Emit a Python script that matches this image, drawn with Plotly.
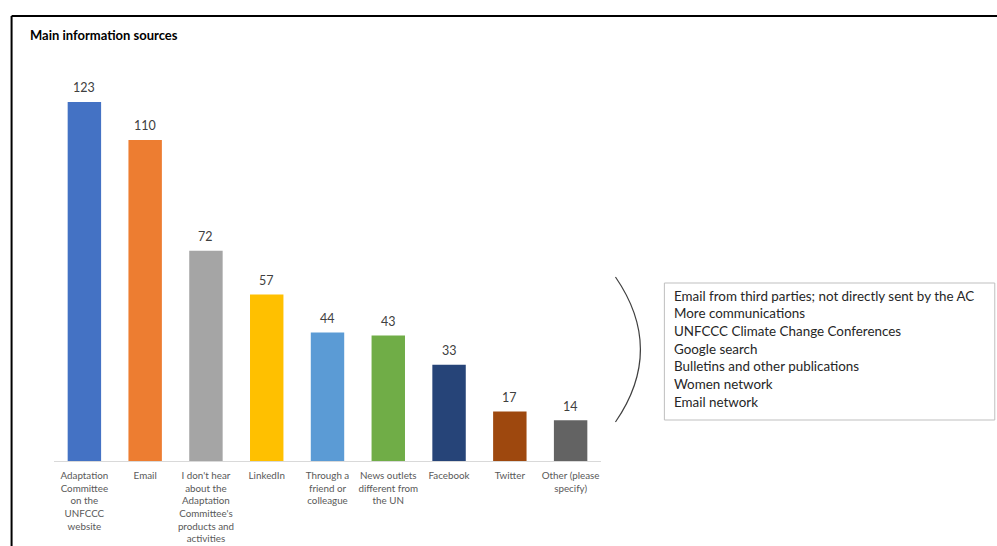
import plotly.graph_objects as go

categories = [
    "Adaptation<br>Committee<br>on the<br>UNFCCC<br>website",
    "Email",
    "I don't hear<br>about the<br>Adaptation<br>Committee's<br>products and<br>activities",
    "LinkedIn",
    "Through a<br>friend or<br>colleague",
    "News outlets<br>different from<br>the UN",
    "Facebook",
    "Twitter",
    "Other (please<br>specify)",
]
values = [123, 110, 72, 57, 44, 43, 33, 17, 14]
colors = ["#4472C4", "#ED7D31", "#A5A5A5", "#FFC000", "#5B9BD5",
          "#70AD47", "#264478", "#9E480E", "#636363"]
other_sources = [
    "Email from third parties; not directly sent by the AC",
    "More communications",
    "UNFCCC Climate Change Conferences",
    "Google search",
    "Bulletins and other publications",
    "Women network",
    "Email network",
]
title = "Main information sources"

W, H = 997, 546
L, R, T, B = 53.5, 601.5, 61, 461
YMAX = (B - T) / 2.919

def px(x):
    return (x - L) / (R - L)

def py(y):
    return (B - y) / (B - T)

xs = list(range(len(categories)))
fig = go.Figure(go.Bar(
    x=xs, y=values,
    marker=dict(color=colors, line=dict(width=0)),
    width=0.55,
    cliponaxis=False,
))

fig.update_xaxes(
    tickmode="array", tickvals=xs, ticktext=categories,
    range=[-0.5, len(categories) - 0.5],
    tickfont=dict(family="Lato", size=9.8, color="#595959"),
    showline=True, linecolor="#D9D9D9", linewidth=1,
    showgrid=False, ticks="", zeroline=False, tickangle=0,
    ticklabelstandoff=5, automargin=False,
)
fig.update_yaxes(range=[0, YMAX], visible=False, automargin=False)

shapes = []
# frame
shapes.append(dict(type="line", xref="paper", yref="paper",
                   x0=px(11), x1=px(1000), y0=py(16), y1=py(16),
                   line=dict(color="#000000", width=2)))
shapes.append(dict(type="line", xref="paper", yref="paper",
                   x0=px(11), x1=px(11), y0=py(16), y1=py(550),
                   line=dict(color="#000000", width=2)))
# arc
shapes.append(dict(type="path", xref="paper", yref="paper",
                   path=f"M {px(616)},{py(277)} Q {px(666)},{py(349.5)} {px(616)},{py(422)}",
                   line=dict(color="#404040", width=1.2)))
# box
shapes.append(dict(type="rect", xref="paper", yref="paper",
                   x0=px(665), x1=px(996), y0=py(283), y1=py(420),
                   line=dict(color="#BFBFBF", width=1), fillcolor="white"))

annotations = [dict(
    text=f"<b>{title}</b>", xref="paper", yref="paper",
    x=px(27), y=py(35), xanchor="left", yanchor="middle", showarrow=False,
    font=dict(family="Lato", size=13, color="#000000"),
)]
for xi, v in zip(xs, values):
    annotations.append(dict(
        text=str(v), x=xi, y=v, xref="x", yref="y",
        yanchor="middle", yshift=14, showarrow=False,
        font=dict(family="Lato", size=12.5, color="#404040"),
    ))
for i, s in enumerate(other_sources):
    annotations.append(dict(
        text=s, xref="paper", yref="paper",
        x=px(673), y=py(295.5 + i * 17.7), xanchor="left", yanchor="middle",
        showarrow=False, font=dict(family="Lato", size=13.4, color="#262626"),
    ))

fig.update_layout(
    width=W, height=H,
    margin=dict(l=L, r=W - R, t=T, b=H - B, autoexpand=False),
    paper_bgcolor="white", plot_bgcolor="white",
    showlegend=False, shapes=shapes, annotations=annotations,
)

fig.write_html("out.html", config={"displayModeBar": False},
               post_script="document.body.style.margin='0px';")
